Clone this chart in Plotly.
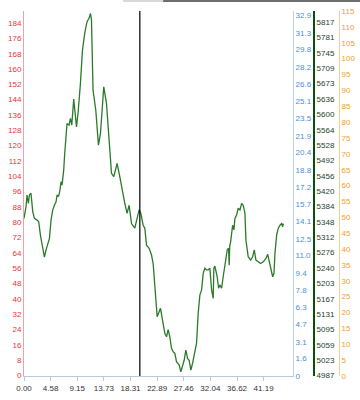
import plotly.graph_objects as go

# ---- data ----
x_vals = [0.00, 0.34, 0.52, 0.76, 0.93, 1.20, 1.50, 1.79, 2.24, 2.53, 2.82, 3.22, 3.51, 3.79, 4.08,
          4.37, 4.65, 4.94, 5.23, 5.51, 5.68, 5.92, 6.14, 6.37, 6.54, 6.83, 7.00, 7.40, 7.74, 7.98,
          8.21, 8.55, 9.02, 9.29, 9.70, 10.05, 10.44, 10.84, 11.18, 11.43, 11.60, 11.87, 12.34, 12.80,
          13.15, 13.71, 14.18, 15.04, 15.43, 16.00, 16.47, 16.98, 17.33, 17.72, 18.07, 18.48, 19.05,
          19.44, 19.79, 20.08, 20.48, 20.77, 21.06, 21.51, 21.92, 22.20, 22.49, 22.89, 23.23, 23.47,
          23.81, 24.21, 24.50, 24.78, 25.07, 25.36, 25.64, 25.93, 26.22, 26.67, 26.96, 27.26, 27.53,
          27.82, 28.12, 28.39, 28.68, 28.98, 29.37, 29.66, 29.94, 30.23, 30.53, 30.80, 31.09, 31.39,
          31.66, 31.95, 32.25, 32.52, 32.64, 32.81, 33.21, 33.45, 33.67, 33.97, 34.24, 34.53, 34.93,
          35.17, 35.27, 35.36, 35.52, 35.86, 36.08, 36.26, 36.55, 36.82, 37.12, 37.41, 37.68, 37.98,
          38.15, 38.54, 38.96, 39.30, 39.58, 39.87, 40.26, 40.68, 41.12, 41.59, 41.88, 42.16, 42.40,
          42.74, 42.97, 43.14, 43.43, 43.71, 44.00, 44.29, 44.46, 44.57]
y_vals = [5356, 5383, 5411, 5391, 5411, 5415, 5372, 5356, 5352, 5348, 5317, 5289, 5265, 5282, 5293,
          5309, 5352, 5376, 5387, 5395, 5411, 5407, 5419, 5442, 5434, 5470, 5509, 5579, 5575, 5591,
          5575, 5636, 5571, 5603, 5673, 5751, 5791, 5818, 5826, 5837, 5822, 5657, 5610, 5528,
          5556, 5665, 5626, 5462, 5454, 5485, 5454, 5411, 5391, 5368, 5387, 5344, 5333,
          5356, 5376, 5368, 5340, 5333, 5293, 5286, 5270, 5250, 5196, 5125, 5137, 5145,
          5117, 5086, 5078, 5095, 5078, 5051, 5043, 5039, 5019, 5012, 4996, 5008, 5023,
          5047, 5027, 5023, 5000, 5016, 5039, 5063, 5133, 5176, 5188, 5227, 5239, 5235,
          5235, 5239, 5188, 5168, 5239, 5244, 5219, 5192, 5200, 5192, 5219, 5242, 5282,
          5286, 5246, 5291, 5301, 5340, 5329, 5356, 5364, 5380, 5376, 5391, 5387, 5368,
          5305, 5266, 5258, 5266, 5282, 5258, 5254, 5250, 5254, 5262, 5272, 5254, 5239,
          5219, 5227, 5274, 5317, 5333, 5340, 5344, 5336, 5344]
cursor_x = 19.91

x_tick_vals = [0.00, 4.58, 9.15, 13.73, 18.31, 22.89, 27.46, 32.04, 36.62, 41.19]
red_ticks = list(range(0, 185, 8))
blue_ticks = [0, 1.6, 3.1, 4.7, 6.3, 7.8, 9.4, 11.0, 12.5, 14.1, 15.7, 17.2, 18.8, 20.4, 21.9,
              23.5, 25.1, 26.6, 28.2, 29.8, 31.3, 32.9]
green_ticks = [4987, 5023, 5059, 5095, 5131, 5167, 5203, 5240, 5276, 5312, 5348, 5384, 5420, 5456,
               5492, 5528, 5564, 5600, 5636, 5673, 5709, 5745, 5781, 5817]
orange_ticks = list(range(0, 116, 5))

FONT = "Liberation Sans"
FS = 8

fig = go.Figure()
# invisible traces so that every axis is drawn
fig.add_trace(go.Scatter(x=[None], y=[None], yaxis="y", showlegend=False))
fig.add_trace(go.Scatter(x=[None], y=[None], yaxis="y2", showlegend=False))
fig.add_trace(go.Scatter(x=[None], y=[None], yaxis="y4", showlegend=False))
fig.add_trace(go.Scatter(x=x_vals, y=y_vals, mode="lines", yaxis="y3",
                         line=dict(color="#2a7a2a", width=1.3), showlegend=False,
                         hoverinfo="skip"))

fig.add_shape(type="line", xref="x", yref="paper", x0=cursor_x, x1=cursor_x, y0=0, y1=1,
              line=dict(color="#000000", width=1.2))
# thin bar at the very top edge
fig.add_shape(type="rect", xref="paper", yref="paper", x0=0.295, x1=0.414, y0=1.0247, y1=1.0301,
              line=dict(width=0), fillcolor="#d8d8d8")
fig.add_shape(type="rect", xref="paper", yref="paper", x0=0.414, x1=1.0, y0=1.0247, y1=1.0301,
              line=dict(width=0), fillcolor="#6e6e6e")

fig.update_layout(
    width=360, height=400,
    margin=dict(l=24, r=0, t=11, b=24),
    paper_bgcolor="white", plot_bgcolor="white",
    font=dict(family=FONT, size=FS),
    xaxis=dict(domain=[0, 0.8006], range=[0, 46.24], showgrid=False, zeroline=False,
               showline=True, linecolor="#b9c9d9", linewidth=1,
               ticks="outside", ticklen=4, tickcolor="#b9c9d9",
               tickvals=x_tick_vals, ticktext=[f"{v:.2f}" for v in x_tick_vals],
               tickfont=dict(color="#333333", size=FS, family=FONT)),
    yaxis=dict(range=[-0.3, 190.3], showgrid=False, zeroline=False,
               showline=True, linecolor="#f3a0a0", linewidth=1, ticks="",
               tickvals=red_ticks, ticktext=[str(v) for v in red_ticks],
               tickfont=dict(color="#e8343c", size=FS, family=FONT)),
    yaxis2=dict(range=[0, 33.3], overlaying="y", side="right", anchor="x",
                showgrid=False, zeroline=False, showline=True, linecolor="#b4d2ee", linewidth=1,
                ticks="", tickvals=blue_ticks, ticktext=[f"{v:.1f}" if v else "0" for v in blue_ticks],
                tickfont=dict(color="#4a8fd8", size=FS, family=FONT)),
    yaxis3=dict(range=[4986, 5843], overlaying="y", side="right", anchor="free", position=0.8631,
                showgrid=False, zeroline=False, showline=True, linecolor="#0b4d0b", linewidth=2,
                ticks="", tickvals=green_ticks, ticktext=[str(v) for v in green_ticks],
                tickfont=dict(color="#1f3f1f", size=FS, family=FONT)),
    yaxis4=dict(range=[0, 115], overlaying="y", side="right", anchor="free", position=0.9375,
                showgrid=False, zeroline=False, showline=True, linecolor="#f8cc8c", linewidth=1,
                ticks="", tickvals=orange_ticks, ticktext=[str(v) for v in orange_ticks],
                tickfont=dict(color="#f0a028", size=FS, family=FONT)),
)

fig.write_html("out.html")
